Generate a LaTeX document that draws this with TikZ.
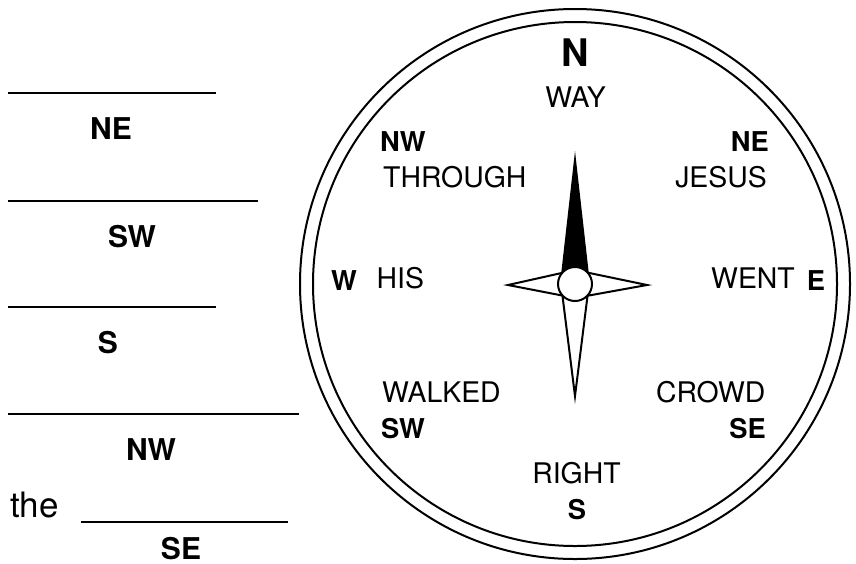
\documentclass[tikz,border=0pt]{standalone}
\usepackage{fontspec}
\setmainfont{TeX Gyre Heros}
\usepackage{tikz}
\usetikzlibrary{positioning}
\tikzset{
  cword/.style={inner sep=0pt, font=\fontsize{28.4}{32}\selectfont},
  cpnt/.style={inner sep=0pt, font=\bfseries\fontsize{27.3}{32}\selectfont},
  lpnt/.style={inner sep=0pt, font=\bfseries\fontsize{30}{34}\selectfont},
  blank/.style={line width=2pt},
  ring/.style={line width=2pt},
  arm/.style={line width=2pt, fill=white},
}

\begin{document}
\begin{tikzpicture}[x=1pt, y=-1pt]
  \useasboundingbox (0,0) rectangle (856,563);

  % blanks to fill in, with the point of the compass under each
  \foreach \i/\ly/\xe/\lab/\lx in {1/93/216/NE/111, 2/200.7/258/SW/132,
                                   3/307/216/S/108, 4/414/299/NW/151}{
    \draw[blank] (8,\ly) -- (\xe,\ly);
    \node[lpnt, anchor=base] (ans\i) at (\lx,\ly+46.5) {\lab};
  }
  \node[inner sep=0pt, anchor=base west, font=\fontsize{35}{40}\selectfont]
       (the) at (10,517) {the};
  \draw[blank] (81,522) -- (288,522);
  \node[lpnt, anchor=base] (ans5) at (181,559.5) {SE};

  % compass face
  \coordinate (c) at (575,284);
  \draw[ring] (c) circle (275pt);
  \draw[ring] (c) circle (262pt);

  % star: arms first, black north needle on top, then the hub
  \draw[arm] (647,285) -- (575,270) -- (575,298) -- cycle;
  \draw[arm] (508,285) -- (575,270) -- (575,298) -- cycle;
  \draw[arm] (575,396) -- (561,284) -- (589,284) -- cycle;
  \filldraw[line width=2pt] (575,160) -- (561,284) -- (589,284) -- cycle;
  \draw[ring, fill=white] (c) circle (17pt);

  % points of the compass
  \node[inner sep=0pt, anchor=base, font=\bfseries\fontsize{38}{42}\selectfont]
       (pN) at (575,66) {N};
  \node[cpnt, anchor=base west] (pNW) at (380,151) {NW};
  \node[cpnt, anchor=base east] (pNE) at (769,151) {NE};
  \node[cpnt, anchor=base] (pW) at (344,290) {W};
  \node[cpnt, anchor=base] (pE) at (816,290) {E};
  \node[cpnt, anchor=base west] (pSW) at (381,438) {SW};
  \node[cpnt, anchor=base east] (pSE) at (766,438) {SE};
  \node[cpnt, anchor=base] (pS) at (577,519) {S};

  % words on the face
  \node[cword, anchor=base] (way) at (575.5,107) {WAY};
  \node[cword, anchor=base west] (through) at (383,187) {THROUGH};
  \node[cword, anchor=base east] (jesus) at (767,187) {JESUS};
  \node[cword, anchor=base west] (his) at (376.5,288) {HIS};
  \node[cword, anchor=base east] (went) at (795,288) {WENT};
  \node[cword, anchor=base west] (walked) at (382,402) {WALKED};
  \node[cword, anchor=base east] (crowd) at (765.5,402) {CROWD};
  \node[cword, anchor=base] (right) at (576.5,483) {RIGHT};
\end{tikzpicture}
\end{document}
